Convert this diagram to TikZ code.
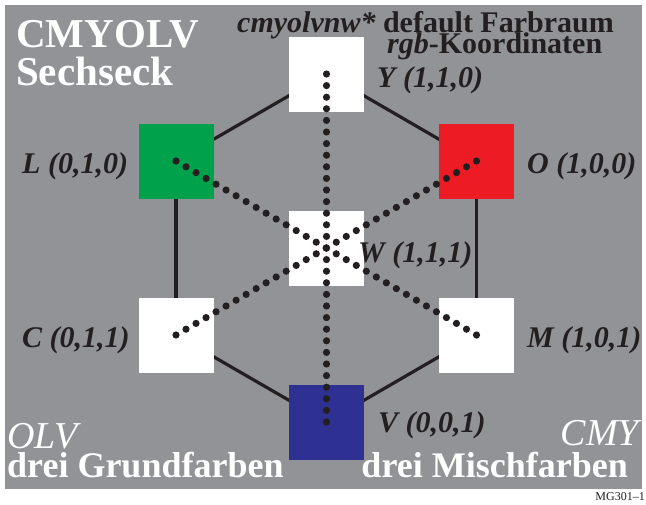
\documentclass[tikz,border=0pt]{standalone}
\usepackage{fontspec}
\setmainfont{Liberation Serif}
\usetikzlibrary{calc,backgrounds}
\definecolor{panel}{RGB}{146,147,151}
\definecolor{ink}{RGB}{35,31,32}
\definecolor{greenL}{RGB}{0,161,75}
\definecolor{redO}{RGB}{237,28,36}
\definecolor{blueV}{RGB}{46,49,146}
\begin{document}
\begin{tikzpicture}[x=1pt,y=-1pt,
  patch/.style={minimum size=75pt, inner sep=0pt, outer sep=0pt, draw=none},
  edge/.style={line width=3.2pt, draw=ink},
  lab/.style={anchor=base west, inner sep=0pt, text=ink,
    font=\fontsize{30}{36}\selectfont\bfseries\itshape},
  hdr/.style={anchor=base west, inner sep=0pt, text=ink,
    font=\fontsize{30}{36}\selectfont\bfseries},
  big/.style={anchor=base west, inner sep=0pt, text=white,
    font=\fontsize{41}{41}\selectfont\bfseries},
  foot/.style={inner sep=0pt, text=white,
    font=\fontsize{36}{36}\selectfont\bfseries},
  footit/.style={inner sep=0pt, text=white,
    font=\fontsize{38}{38}\selectfont\itshape}]
\useasboundingbox (0,0) rectangle (646,504);

% colour patches at the corners and the centre of the hexagon
\node[patch, fill=white]  (Y) at (326.5,74)  {};
\node[patch, fill=greenL] (L) at (176,161)   {};
\node[patch, fill=redO]   (O) at (476.5,161) {};
\node[patch, fill=white]  (W) at (326.5,248) {};
\node[patch, fill=white]  (C) at (176,335)   {};
\node[patch, fill=white]  (M) at (476.5,335) {};
\node[patch, fill=blueV]  (V) at (326.5,422) {};

% page, panel and hexagon sides behind the patches
\begin{scope}[on background layer]
  \fill[white] (0,0) rectangle (646,504);
  \fill[panel] (5,5) rectangle (642,489);
  \draw[edge] (Y.center) -- (L.center);
  \draw[edge] (L.center) -- (C.center);
  \draw[edge] (C.center) -- (V.center);
  \draw[edge] (V.center) -- (M.center);
  \draw[edge] (M.center) -- (O.center);
  \draw[edge] (O.center) -- (Y.center);
\end{scope}

% dotted diagonals through W
\foreach \a/\b in {Y/V, L/M, O/C}{
  \foreach \i in {0,...,30}{
    \fill[ink] ($(\a.center)!\i/30!(\b.center)$) circle (3.6pt);
  }
}

% vertex labels
\node[lab] (labY) at (377,87)  {Y (1,1,0)};
\node[lab] (labL) at (22,173)  {L (0,1,0)};
\node[lab] (labO) at (527,173) {O (1,0,0)};
\node[lab] (labW) at (358,262) {W (1,1,1)};
\node[lab] (labC) at (22,347)  {C (0,1,1)};
\node[lab] (labM) at (527,347) {M (1,0,1)};
\node[lab] (labV) at (378,432) {V (0,0,1)};

% titles
\node[big] (t1) at (16,47) {CMYOLV};
\node[big] (t2) at (16,85) {Sechseck};
\node[hdr] (h1) at (237,32) {\itshape cmyolvnw*\upshape{} default Farbraum};
\node[hdr] (h2) at (387,53) {\itshape rgb\upshape-Koordinaten};

% legends at the bottom
\node[footit, anchor=base west] (olv) at (7,448) {OLV};
\node[foot, anchor=base west] (grund) at (7,477) {drei Grundfarben};
\node[footit, anchor=base east] (cmy) at (639,445) {CMY};
\node[foot, anchor=base east] (misch) at (628,477) {drei Mischfarben};

\node[anchor=base east, inner sep=0pt, text=ink,
  font=\fontsize{12}{12}\selectfont] (code) at (645,500) {MG301--1};
\end{tikzpicture}
\end{document}
